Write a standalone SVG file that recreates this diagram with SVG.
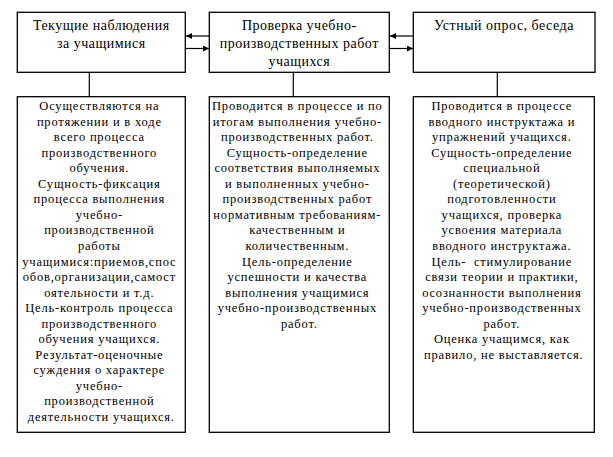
<svg xmlns="http://www.w3.org/2000/svg" width="613" height="457" viewBox="0 0 613 457">
<defs>
<marker id="ah" viewBox="0 0 10 10" refX="10" refY="5" markerWidth="6" markerHeight="6" markerUnits="userSpaceOnUse" orient="auto">
<path d="M0,0 L10,5 L0,10 z" fill="#000"/>
</marker>
</defs>
<style>
.box{fill:#fff;stroke:#000;stroke-width:1.3}
.ln{stroke:#000;stroke-width:1.2;fill:none}
.t{font-size:14px;fill:#000;text-anchor:middle;letter-spacing:0.5px}
.s{font-size:12.5px;fill:#000;text-anchor:middle;letter-spacing:0.8px}
</style>
<rect width="613" height="457" fill="#fff"/>
<g id="connectors">
<line class="ln" x1="209" y1="36" x2="186" y2="36" marker-end="url(#ah)"/>
<line class="ln" x1="185" y1="48.5" x2="209" y2="48.5" marker-end="url(#ah)"/>
<line class="ln" x1="413" y1="36" x2="390" y2="36" marker-end="url(#ah)"/>
<line class="ln" x1="389" y1="48.5" x2="413" y2="48.5" marker-end="url(#ah)"/>
<line class="ln" x1="89.3" y1="72.3" x2="89.3" y2="96.7"/>
<line class="ln" x1="293.3" y1="72.3" x2="293.3" y2="96.7"/>
<line class="ln" x1="497.3" y1="72.3" x2="497.3" y2="96.7"/>
</g>
<g font-family="Liberation Serif, Times New Roman, serif">
<g id="n1">
<rect class="box" x="17.3" y="12.3" width="168" height="60"/>
<text class="t" x="101.3" y="30">Текущие наблюдения</text>
<text class="t" x="101.3" y="48">за учащимися</text>
</g>
<g id="n2">
<rect class="box" x="209.3" y="12.3" width="180" height="60"/>
<text class="t" x="299.3" y="30">Проверка учебно-</text>
<text class="t" x="299.3" y="48">производственных работ</text>
<text class="t" x="299.3" y="66">учащихся</text>
</g>
<g id="n3">
<rect class="box" x="413.3" y="12.3" width="181.7" height="60"/>
<text class="t" x="504" y="30">Устный опрос, беседа</text>
</g>
<g id="n4">
<rect class="box" x="17.3" y="96.7" width="168" height="335.6"/>
<text class="s" x="101.3" y="110">
<tspan x="101.3" dy="0">Осуществляются на</tspan>
<tspan x="101.3" dy="15.55">протяжении и в ходе</tspan>
<tspan x="101.3" dy="15.55">всего процесса</tspan>
<tspan x="101.3" dy="15.55">производственного</tspan>
<tspan x="101.3" dy="15.55">обучения.</tspan>
<tspan x="101.3" dy="15.55">Сущность-фиксация</tspan>
<tspan x="101.3" dy="15.55">процесса выполнения</tspan>
<tspan x="101.3" dy="15.55">учебно-</tspan>
<tspan x="101.3" dy="15.55">производственной</tspan>
<tspan x="101.3" dy="15.55">работы</tspan>
<tspan x="101.3" dy="15.55">учащимися:приемов,спос</tspan>
<tspan x="101.3" dy="15.55">обов,организации,самост</tspan>
<tspan x="101.3" dy="15.55">оятельности и т.д.</tspan>
<tspan x="101.3" dy="15.55">Цель-контроль процесса</tspan>
<tspan x="101.3" dy="15.55">производственного</tspan>
<tspan x="101.3" dy="15.55">обучения учащихся.</tspan>
<tspan x="101.3" dy="15.55">Результат-оценочные</tspan>
<tspan x="101.3" dy="15.55">суждения о характере</tspan>
<tspan x="101.3" dy="15.55">учебно-</tspan>
<tspan x="101.3" dy="15.55">производственной</tspan>
<tspan x="101.3" dy="15.55">деятельности учащихся.</tspan>
</text>
</g>
<g id="n5">
<rect class="box" x="209.3" y="96.7" width="180" height="335.6"/>
<text class="s" x="299.3" y="110">
<tspan x="299.3" dy="0">Проводится в процессе и по</tspan>
<tspan x="299.3" dy="15.55">итогам выполнения учебно-</tspan>
<tspan x="299.3" dy="15.55">производственных работ.</tspan>
<tspan x="299.3" dy="15.55">Сущность-определение</tspan>
<tspan x="299.3" dy="15.55">соответствия выполняемых</tspan>
<tspan x="299.3" dy="15.55">и выполненных учебно-</tspan>
<tspan x="299.3" dy="15.55">производственных работ</tspan>
<tspan x="299.3" dy="15.55">нормативным требованиям-</tspan>
<tspan x="299.3" dy="15.55">качественным и</tspan>
<tspan x="299.3" dy="15.55">количественным.</tspan>
<tspan x="299.3" dy="15.55">Цель-определение</tspan>
<tspan x="299.3" dy="15.55">успешности и качества</tspan>
<tspan x="299.3" dy="15.55">выполнения учащимися</tspan>
<tspan x="299.3" dy="15.55">учебно-производственных</tspan>
<tspan x="299.3" dy="15.55">работ.</tspan>
</text>
</g>
<g id="n6">
<rect class="box" x="413.3" y="96.7" width="181" height="335.6"/>
<text class="s" x="503.8" y="110">
<tspan x="503.8" dy="0">Проводится в процессе</tspan>
<tspan x="503.8" dy="15.55">вводного инструктажа и</tspan>
<tspan x="503.8" dy="15.55">упражнений учащихся.</tspan>
<tspan x="503.8" dy="15.55">Сущность-определение</tspan>
<tspan x="503.8" dy="15.55">специальной</tspan>
<tspan x="503.8" dy="15.55">(теоретической)</tspan>
<tspan x="503.8" dy="15.55">подготовленности</tspan>
<tspan x="503.8" dy="15.55">учащихся, проверка</tspan>
<tspan x="503.8" dy="15.55">усвоения материала</tspan>
<tspan x="503.8" dy="15.55">вводного инструктажа.</tspan>
<tspan x="503.8" dy="15.55">Цель-&#160; стимулирование</tspan>
<tspan x="503.8" dy="15.55">связи теории и практики,</tspan>
<tspan x="503.8" dy="15.55">осознанности выполнения</tspan>
<tspan x="503.8" dy="15.55">учебно-производственных</tspan>
<tspan x="503.8" dy="15.55">работ.</tspan>
<tspan x="503.8" dy="15.55">Оценка учащимся, как</tspan>
<tspan x="503.8" dy="15.55">правило, не выставляется.</tspan>
</text>
</g>
</g>
</svg>
